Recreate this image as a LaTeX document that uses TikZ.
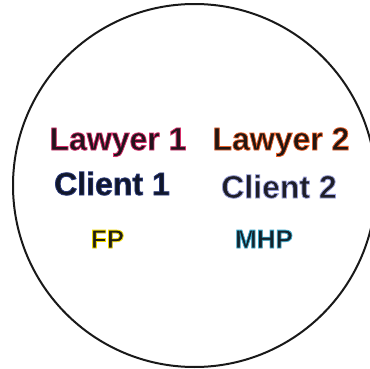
\documentclass[tikz,border=0pt]{standalone}
\usepackage{fontspec}
\setmainfont{Liberation Sans}
\definecolor{lawA}{HTML}{22141C}
\definecolor{lawB}{HTML}{221612}
\definecolor{cliA}{HTML}{111729}
\definecolor{cliB}{HTML}{1E1E28}
\definecolor{fpc}{HTML}{201E14}
\definecolor{mhpc}{HTML}{14222A}
\newcommand{\outl}[2]{\special{pdf:literal direct 2 Tr 0.8 w #1 RG}#2\special{pdf:literal direct 0 Tr}}
\tikzset{
  lbl/.style={anchor=base, inner sep=0pt, font=\bfseries\fontsize{32}{32}\selectfont},
  sml/.style={anchor=base, inner sep=0pt, font=\bfseries\fontsize{26}{26}\selectfont}
}
\begin{document}
\begin{tikzpicture}[x=1pt,y=1pt]
\useasboundingbox (0,0) rectangle (370,368);
\fill[white] (0,0) rectangle (370,368);
\draw[line width=2pt, black!90] (194.5,182.5) circle (181.5);
\node[lbl, text=lawA] (l1) at (118,218) {\outl{0.85 0.18 0.42}{Lawyer 1}};
\node[lbl, text=cliA] (c1) at (112,173) {\outl{0.16 0.22 0.48}{Client 1}};
\node[lbl, text=lawB] (l2) at (281,218) {\outl{0.92 0.38 0.16}{Lawyer 2}};
\node[lbl, text=cliB] (c2) at (279,170) {\outl{0.6 0.62 0.85}{Client 2}};
\node[sml, text=fpc] (fp) at (107.5,120) {\outl{0.95 0.85 0.0}{FP}};
\node[sml, text=mhpc] (mhp) at (264,120) {\outl{0.22 0.66 0.8}{MHP}};
\end{tikzpicture}
\end{document}
